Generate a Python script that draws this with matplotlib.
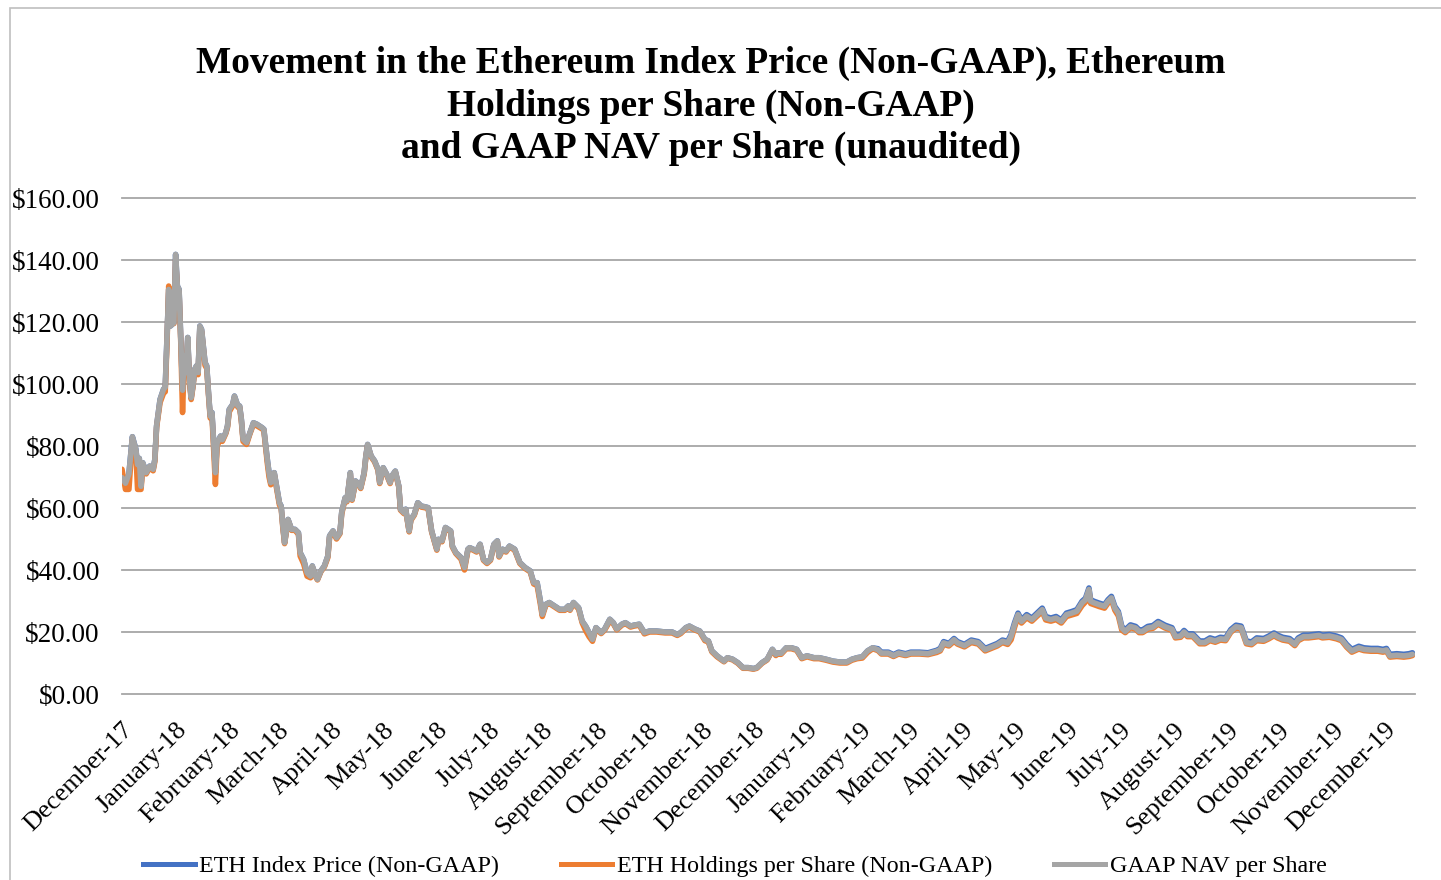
import matplotlib
matplotlib.use('Agg')
import matplotlib.pyplot as plt
from matplotlib.ticker import FuncFormatter
from matplotlib.patches import Rectangle
from matplotlib.lines import Line2D
import pandas as pd

# ---------------- data ----------------
start_date = '2017-12-14'
end_date = '2019-12-31'

# days elapsed since start_date
days = [
    0, 2, 4, 6, 8, 9, 10, 11, 12, 14,
    16, 18, 19, 20, 22, 24, 25, 26, 27, 28,
    30, 31, 32, 33, 34, 35, 36, 37, 38, 39,
    40, 41, 42, 43, 44, 45, 46, 48, 49, 50,
    51, 52, 54, 55, 57, 58, 60, 61, 62, 64,
    65, 67, 68, 69, 70, 72, 74, 76, 78, 81,
    82, 84, 85, 86, 88, 89, 91, 92, 93, 94,
    96, 98, 100, 102, 103, 105, 107, 109, 110, 112,
    113, 115, 117, 119, 120, 122, 124, 126, 127, 129,
    130, 132, 133, 135, 137, 138, 140, 141, 142, 144,
    146, 148, 149, 151, 153, 155, 156, 158, 160, 161,
    163, 164, 166, 167, 169, 171, 173, 175, 177, 179,
    182, 183, 185, 187, 190, 191, 193, 196, 198, 200,
    201, 203, 205, 207, 209, 211, 213, 215, 217, 218,
    220, 222, 224, 227, 230, 233, 236, 238, 240, 242,
    243, 245, 247, 250, 253, 256, 258, 259, 261, 264,
    266, 268, 270, 272, 274, 277, 279, 282, 284, 286,
    289, 291, 294, 296, 299, 302, 305, 309, 314, 318,
    321, 323, 326, 328, 331, 334, 337, 339, 341, 344,
    348, 350, 353, 356, 359, 362, 365, 367, 370, 373,
    376, 378, 379, 381, 384, 387, 390, 393, 396, 400,
    403, 407, 411, 415, 419, 422, 425, 428, 431, 434,
    437, 439, 443, 446, 449, 453, 456, 461, 466, 471,
    473, 475, 478, 481, 483, 487, 491, 495, 499, 503,
    506, 509, 512, 514, 516, 518, 520, 523, 526, 529,
    532, 534, 537, 540, 543, 546, 549, 552, 555, 557,
    559, 560, 562, 565, 568, 570, 572, 574, 576, 578,
    580, 583, 586, 588, 590, 593, 596, 599, 603, 607,
    609, 612, 614, 616, 619, 623, 626, 629, 632, 635,
    638, 641, 644, 647, 650, 653, 656, 660, 663, 666,
    668, 671, 675, 678, 680, 683, 686, 689, 692, 694,
    698, 702, 705, 708, 711, 715, 718, 722, 726, 729,
    731, 733, 737, 741, 744, 746,
]

eth_index_price = [
    70, 68, 71, 83, 79, 74, 76, 67, 74.6, 71.4,
    73.5, 72.5, 75.7, 86.5, 95, 98.3, 99, 114.4, 130.5, 118.7,
    119.8, 141.8, 131.6, 130.5, 114.4, 98, 109, 103.7, 115, 101.5,
    95.6, 99.4, 104.7, 105.8, 103.7, 118.7, 117.6, 106.9, 105.8, 97.2,
    89.7, 90.8, 71.4, 81, 83.2, 82, 84.3, 86.5, 91.8, 93.4,
    96.1, 92.9, 92.9, 88.6, 82.2, 81.1, 84.3, 87.5, 87, 85.9,
    85.4, 75.7, 71.4, 68.2, 71.4, 68.2, 61.7, 60.6, 54.2, 48.8,
    56.3, 53.1, 53.1, 52, 45.6, 43.4, 39.1, 38, 41.3, 38,
    37, 39.7, 41.3, 44.5, 51, 52.6, 50.4, 52, 58.5, 63.3,
    62.3, 71.4, 62.8, 68.7, 67.6, 66.6, 71.4, 76.8, 80.5, 76.8,
    75.2, 72.5, 68.2, 73, 70.9, 68.2, 70.3, 71.9, 67.1, 59.6,
    58.5, 59.6, 52.6, 56.3, 58, 61.7, 60.6, 60.4, 60.1, 52.6,
    46.7, 49.9, 49.4, 53.7, 52.6, 47.7, 45.6, 44, 40.8, 46.7,
    47.2, 46.7, 46.1, 48.3, 43.4, 42.4, 43.4, 48.3, 49.4, 44.5,
    46.7, 46.1, 47.7, 46.7, 42.4, 40.8, 39.7, 35.9, 35.9, 29.5,
    25.7, 28.9, 29.5, 28.4, 27.3, 27.3, 28.4, 27.3, 29.5, 27.8,
    23.5, 21.9, 19.8, 17.6, 21.4, 19.8, 20.9, 24.1, 23, 21,
    22.5, 23, 21.9, 22.2, 22.5, 19.8, 20.3, 20.3, 20, 20,
    19.2, 19.8, 21.4, 21.9, 21, 20.3, 17.6, 17.1, 13.9, 12.3,
    10.6, 11.7, 11.2, 10.1, 8.5, 8.5, 8.2, 8.5, 10.1, 11.2,
    14.4, 12.8, 13.3, 13.1, 14.9, 14.9, 14.4, 11.7, 12.3, 11.7,
    11.7, 11.2, 10.6, 10.3, 10.3, 11.2, 11.7, 12, 13.9, 14.9,
    14.6, 13.5, 13.5, 12.7, 13.5, 13, 13.5, 13.5, 13.3, 14.1,
    14.7, 16.9, 16.3, 17.9, 16.9, 16, 17.4, 16.9, 14.7, 15.6,
    16.3, 17.4, 17, 19.2, 23, 26.1, 23.9, 25.6, 24.5, 26.1,
    27.7, 25, 24.5, 25, 23.9, 26.1, 26.6, 27.2, 29.9, 30.9,
    34.2, 30.4, 29.9, 29.3, 28.8, 30.4, 31.5, 28.2, 26.6, 21.8,
    20.7, 22.3, 21.8, 20.7, 20.7, 21.8, 22.1, 23.4, 22.2, 21.4,
    19, 19.2, 20.5, 19.4, 19.4, 17.1, 17.1, 18.1, 17.6, 18.3,
    18.1, 20.8, 22.2, 21.9, 17.1, 16.8, 18.1, 17.9, 18.7, 19.7,
    19, 18.3, 17.9, 16.5, 18.1, 19, 19, 19.2, 19.4, 19,
    19.2, 18.7, 18.1, 16, 14.4, 15.4, 14.9, 14.7, 14.7, 14.4,
    14.7, 12.8, 13, 12.8, 13, 13.3,
]

eth_holdings_per_share = [
    72.5, 66, 66, 82, 78, 66, 66, 66, 73, 71,
    73, 72, 75, 86, 94, 97, 97.5, 113, 131.6, 119.5,
    119.5, 140, 131, 129.5, 113, 90.8, 108, 103, 114, 100.5,
    95, 99, 104, 105, 103, 118, 117, 106, 105, 96.5,
    89, 90, 67.6, 80, 82.5, 81.5, 84, 86, 91, 93,
    95.5, 92.5, 92.5, 88, 81.5, 80.5, 84, 87, 86.5, 85.5,
    85, 74.5, 70, 67.5, 71, 67.5, 61, 60, 53.5, 48.5,
    56, 52.8, 52.8, 51.5, 44.5, 42, 38, 37.5, 41, 37.8,
    36.8, 39.5, 41, 44, 50.5, 52.3, 50, 51.7, 58, 63,
    62, 71, 62.5, 68.4, 67.3, 66.3, 71, 76.5, 80.2, 76.5,
    74.9, 72.2, 67.9, 72.7, 70.6, 67.9, 70, 71.6, 66.8, 59.3,
    58.2, 59.3, 52.3, 56, 57.7, 61.4, 60.3, 60.1, 59.8, 52.3,
    46.4, 49.6, 49.1, 53.4, 52.3, 47.4, 45.3, 43.5, 40, 46.4,
    46.9, 46.4, 45.8, 48, 43.1, 42.1, 43.1, 48, 49.1, 44.2,
    46.4, 45.8, 47.4, 46.4, 42.1, 40.5, 39.4, 35.5, 35, 28.5,
    25, 28.6, 29.2, 28.1, 27, 27, 28.1, 27, 29.2, 27.4,
    23, 20.5, 18.5, 17, 21, 19.5, 20.6, 23.5, 22.7, 20.7,
    22.2, 22.7, 21.6, 21.9, 22.2, 19.4, 20, 20, 19.7, 19.7,
    18.9, 19.5, 21.1, 21.6, 20.7, 20, 17.2, 16.8, 13.6, 12,
    10.4, 11.5, 11, 9.9, 8.3, 8.3, 8, 8.3, 9.9, 11,
    14.1, 12.4, 12.9, 12.8, 14.6, 14.6, 14.1, 11.4, 12, 11.4,
    11.4, 10.9, 10.3, 10, 10, 10.9, 11.4, 11.6, 13.4, 14.6,
    14, 12.9, 12.9, 12.1, 12.9, 12.4, 12.9, 12.9, 12.7, 13.4,
    13.9, 16, 15.5, 17, 16.1, 15.2, 16.6, 16.1, 13.9, 14.8,
    15.5, 16.6, 16, 17.5, 21.5, 25, 22.9, 24.6, 23.5, 25.1,
    26.6, 23.9, 23.5, 24, 22.9, 25, 25.5, 26, 28.5, 29.7,
    33, 29.2, 28.8, 28.2, 27.7, 29.3, 30.4, 27, 25.2, 20.6,
    19.8, 21.4, 20.9, 19.8, 19.8, 20.9, 21.2, 22.5, 21.3, 20.5,
    18.1, 18.3, 19.6, 18.5, 18.5, 16.2, 16.2, 17.2, 16.7, 17.4,
    17.2, 19.9, 21.3, 21, 16.2, 15.9, 17.2, 17, 17.8, 18.8,
    18.1, 17.4, 17, 15.6, 17.2, 18.1, 18.1, 18.3, 18.5, 18.1,
    18.3, 17.8, 17.2, 15.1, 13.5, 14.5, 14, 13.8, 13.8, 13.5,
    13.8, 11.9, 12.1, 11.9, 12.1, 12.4,
]

gaap_nav_per_share = [
    69.8, 68, 71, 83, 79, 74, 76, 67, 74.6, 71.4,
    73.5, 72.5, 75.7, 86.5, 95, 98.3, 99, 114.4, 130.5, 118.7,
    119.8, 141.8, 131.6, 130.5, 114.4, 98, 109, 103.7, 115, 101.5,
    95.6, 99.4, 104.7, 105.8, 103.7, 118.7, 117.6, 106.9, 105.8, 97.2,
    89.7, 90.8, 71.4, 81, 83.2, 82, 84.3, 86.5, 91.8, 93.4,
    96.1, 92.9, 92.9, 88.6, 82.2, 81.1, 84.3, 87.5, 87, 85.9,
    85.4, 75.7, 71.4, 68.2, 71.4, 68.2, 61.7, 60.6, 54.2, 48.8,
    56.3, 53.1, 53.1, 52, 45.6, 43.4, 39.1, 38, 41.3, 38,
    37, 39.7, 41.3, 44.5, 51, 52.6, 50.4, 52, 58.5, 63.3,
    62.3, 71.4, 62.8, 68.7, 67.6, 66.6, 71.4, 76.8, 80.5, 76.8,
    75.2, 72.5, 68.2, 73, 70.9, 68.2, 70.3, 71.9, 67.1, 59.6,
    58.5, 59.6, 52.6, 56.3, 58, 61.7, 60.6, 60.4, 60.1, 52.6,
    46.7, 49.9, 49.4, 53.7, 52.6, 47.7, 45.6, 44, 40.8, 46.7,
    47.2, 46.7, 46.1, 48.3, 43.4, 42.4, 43.4, 48.3, 49.4, 44.5,
    46.7, 46.1, 47.7, 46.7, 42.4, 40.8, 39.7, 35.9, 35.9, 29.5,
    25.7, 28.9, 29.5, 28.4, 27.3, 27.3, 28.4, 27.3, 29.5, 27.8,
    23.5, 21.9, 19.8, 17.6, 21.4, 19.8, 20.9, 24.1, 23, 21,
    22.5, 23, 21.9, 22.2, 22.5, 19.8, 20.3, 20.3, 20, 20,
    19.2, 19.8, 21.4, 21.9, 21, 20.3, 17.6, 17.1, 13.9, 12.3,
    10.6, 11.7, 11.2, 10.1, 8.5, 8.5, 8.2, 8.5, 10.1, 11.2,
    14.4, 12.8, 13.3, 13.1, 14.9, 14.9, 14.4, 11.7, 12.3, 11.7,
    11.7, 11.2, 10.6, 10.3, 10.3, 11.2, 11.7, 12, 13.9, 14.9,
    14.3, 13.2, 13.2, 12.4, 13.2, 12.7, 13.2, 13.2, 13, 13.8,
    14.3, 16.5, 15.9, 17.5, 16.5, 15.6, 17, 16.5, 14.3, 15.2,
    15.9, 17, 16.5, 18.6, 22.4, 25.6, 23.4, 25.1, 24, 25.6,
    27.2, 24.5, 24, 24.5, 23.4, 25.6, 26.1, 26.7, 29.4, 30.4,
    33.7, 29.9, 29.4, 28.8, 28.3, 29.9, 31, 27.7, 26.1, 21.3,
    20.2, 21.8, 21.3, 20.2, 20.2, 21.3, 21.6, 22.9, 21.7, 20.9,
    18.5, 18.7, 20, 18.9, 18.9, 16.6, 16.6, 17.6, 17.1, 17.8,
    17.6, 20.3, 21.7, 21.4, 16.6, 16.3, 17.6, 17.4, 18.2, 19.2,
    18.5, 17.8, 17.4, 16, 17.6, 18.5, 18.5, 18.7, 18.9, 18.5,
    18.7, 18.2, 17.6, 15.5, 13.9, 14.9, 14.4, 14.2, 14.2, 13.9,
    14.2, 12.3, 12.5, 12.3, 12.5, 12.8,
]

month_labels = [
    'December-17', 'January-18', 'February-18', 'March-18', 'April-18',
    'May-18', 'June-18', 'July-18', 'August-18', 'September-18',
    'October-18', 'November-18', 'December-18', 'January-19', 'February-19',
    'March-19', 'April-19', 'May-19', 'June-19', 'July-19', 'August-19',
    'September-19', 'October-19', 'November-19', 'December-19',
]

y_ticks = [0, 20, 40, 60, 80, 100, 120, 140, 160]

series_names = [
    'ETH Index Price (Non-GAAP)',
    'ETH Holdings per Share (Non-GAAP)',
    'GAAP NAV per Share',
]
series_colors = ['#4472C4', '#ED7D31', '#A5A5A5']

title = ('Movement in the Ethereum Index Price (Non-GAAP), Ethereum\n'
         'Holdings per Share (Non-GAAP)\n'
         'and GAAP NAV per Share (unaudited)')

# ---------------- plot ----------------
plt.rcParams['font.family'] = ['Liberation Serif', 'DejaVu Serif']

W, H = 1441, 880
fig = plt.figure(figsize=(W / 100, H / 100), dpi=100)
fig.patch.set_facecolor('white')

# outer chart border
fig.patches.append(Rectangle((10 / W, -0.01), 1.0, 1 - 8 / H + 0.01,
                             transform=fig.transFigure, fill=False,
                             edgecolor='#BFBFBF', lw=1.2))

ax = fig.add_axes([122 / W, 186 / H, 1293 / W, 496 / H])

start = pd.Timestamp(start_date)
dates = start + pd.to_timedelta(days, unit='D')

all_series = [eth_index_price, eth_holdings_per_share, gaap_nav_per_share]
for vals, name, col in zip(all_series, series_names, series_colors):
    ax.plot(dates, vals, color=col, lw=4.0, solid_joinstyle='round',
            solid_capstyle='round', label=name)

ax.set_ylim(min(y_ticks), max(y_ticks))
ax.set_yticks(y_ticks)
ax.yaxis.set_major_formatter(FuncFormatter(lambda v, p: f'${v:,.2f}'))
ax.grid(axis='y', color='#A6A6A6', lw=1.3)
ax.set_axisbelow(True)
for gl in ax.get_ygridlines():
    gl.set_clip_on(False)
for s in ax.spines.values():
    s.set_visible(False)
ax.tick_params(axis='y', length=0, pad=16, labelsize=19.5)

ticks = pd.date_range(start, periods=len(month_labels),
                      freq=pd.DateOffset(months=1))
ax.set_xticks(ticks)
ax.set_xticklabels(month_labels, rotation=45, ha='right',
                   rotation_mode='anchor')
ax.tick_params(axis='x', length=0, pad=18, labelsize=19)
ax.set_xlim(start, pd.Timestamp(end_date) + pd.Timedelta(days=0.5))

fig.text(711 / W, 1 - 106 / H, title, ha='center', va='center',
         fontsize=26.9, fontweight='bold', linespacing=1.28)

handles = [Line2D([], [], color=c, lw=3.6) for c in series_colors]
fig.legend(handles, series_names, loc='center',
           bbox_to_anchor=(735 / W, 1 - 866 / H), ncol=3, frameon=False,
           fontsize=17.3, handlelength=2.15, handletextpad=0.2,
           columnspacing=2.55)

fig.savefig('out.png', dpi=100)
